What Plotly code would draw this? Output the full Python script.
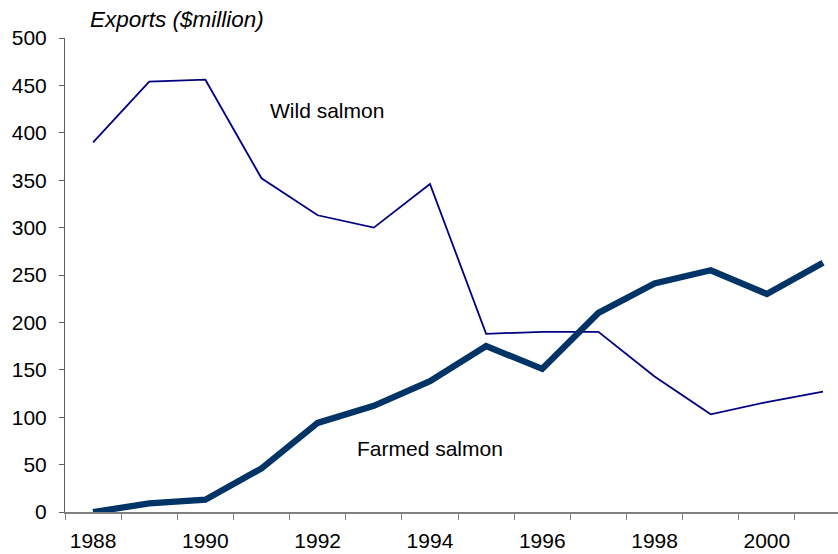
import plotly.graph_objects as go

years = list(range(1988, 2002))
wild_salmon = [390, 454, 456, 352, 313, 300, 346, 188, 190, 190, 143, 103, 116, 127]
farmed_salmon = [0, 9, 13, 46, 94, 112, 138, 175, 151, 210, 241, 255, 230, 263]
label_years = [1988, 1990, 1992, 1994, 1996, 1998, 2000]
y_ticks = list(range(0, 501, 50))

FONT = "Liberation Sans, Arial, sans-serif"
x_range = [1987.5, 2001.267]

fig = go.Figure()
fig.add_trace(go.Scatter(
    x=years, y=wild_salmon, mode="lines", name="Wild salmon",
    line=dict(color="#000080", width=1.8), showlegend=False,
))
fig.add_trace(go.Scatter(
    x=years, y=farmed_salmon, mode="lines", name="Farmed salmon",
    line=dict(color="#003366", width=6.3), showlegend=False,
))

fig.update_layout(
    width=838, height=554,
    margin=dict(l=65, r=0, t=38, b=42),
    paper_bgcolor="white", plot_bgcolor="white",
    font=dict(family=FONT, size=21, color="black"),
    xaxis=dict(
        range=x_range,
        tickmode="array",
        tickvals=[y - 0.5 for y in years],
        showticklabels=False,
        ticks="outside", ticklen=6, tickwidth=1, tickcolor="#808080",
        showline=True, linecolor="#808080", linewidth=1.5,
        showgrid=False, zeroline=False, automargin=False,
    ),
    xaxis2=dict(
        range=x_range,
        overlaying="x", side="bottom", anchor="y",
        tickmode="array",
        tickvals=label_years,
        ticktext=[str(y) for y in label_years],
        ticks="", showline=False, showgrid=False, zeroline=False,
        tickfont=dict(family=FONT, size=21, color="black"),
        ticklabelstandoff=14, automargin=False,
    ),
    yaxis=dict(
        range=[0, 500],
        tickmode="array", tickvals=y_ticks,
        ticks="outside", ticklen=5, tickwidth=1, tickcolor="#606060",
        showline=True, linecolor="#606060", linewidth=1,
        showgrid=False, zeroline=False, automargin=False,
        tickfont=dict(family=FONT, size=21, color="black"),
        ticklabelstandoff=8,
    ),
)

# placeholder trace so the label axis is drawn
fig.add_trace(go.Scatter(x=[years[0]], y=[None], xaxis="x2", showlegend=False,
                         hoverinfo="skip"))

fig.add_annotation(text="<i>Exports ($million)</i>", x=0.0298, y=1.038,
                   xref="paper", yref="paper", xanchor="left", yanchor="middle",
                   showarrow=False, font=dict(family=FONT, size=22.5, color="black"))
fig.add_annotation(text="Wild salmon", x=1991.12, y=424,
                   xref="x", yref="y", xanchor="left", yanchor="middle",
                   showarrow=False, font=dict(family=FONT, size=21, color="black"))
fig.add_annotation(text="Farmed salmon", x=1992.66, y=66.5,
                   xref="x", yref="y", xanchor="left", yanchor="middle",
                   showarrow=False, font=dict(family=FONT, size=21, color="black"))

fig.write_html("out.html")
